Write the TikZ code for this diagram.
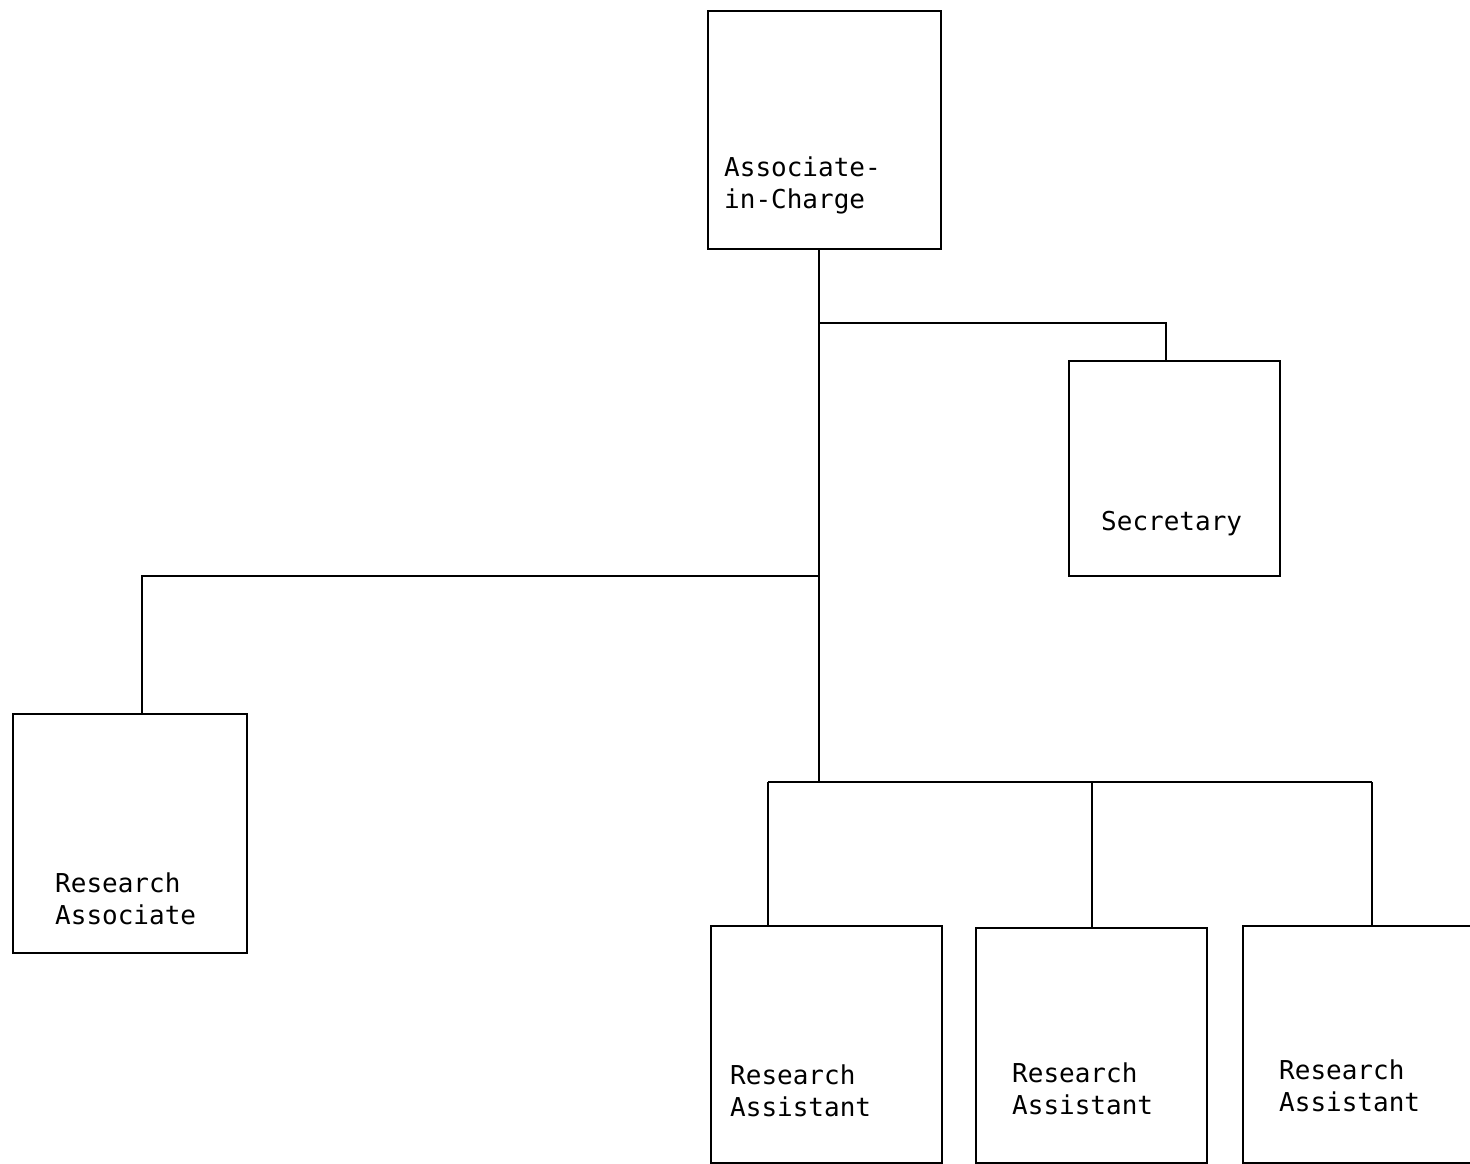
\documentclass[tikz,border=0pt]{standalone}
\usepackage{fontspec}
\setmonofont{DejaVu Sans Mono}
\begin{document}
\begin{tikzpicture}[x=1pt,y=-1pt,
  box/.style={draw=black, line width=1.8pt, anchor=north west, inner sep=0pt, minimum width=#1},
  lbl/.style={anchor=base west, inner sep=0pt, font=\ttfamily\fontsize{26}{32}\selectfont, align=left, text=black},
  wire/.style={draw=black, line width=1.8pt}]
\useasboundingbox[fill=white] (0,0) rectangle (1470,1164);
% boxes
\node[box=233pt, minimum height=238pt] (aic) at (707,10) {};
\node[box=211pt, minimum height=215pt] (sec) at (1068,360) {};
\node[box=234pt, minimum height=239pt] (rass) at (12,713) {};
\node[box=231pt, minimum height=237pt] (ra1) at (710,925) {};
\node[box=231pt, minimum height=235pt] (ra2) at (975,927) {};
\node[box=232pt, minimum height=237pt] (ra3) at (1242,925) {};
% labels (anchor = baseline of last line)
\node[lbl] (taic) at (724,208) {Associate-\\in-Charge};
\node[lbl] (tsec) at (1101,530) {Secretary};
\node[lbl] (trass) at (55,924) {Research\\Associate};
\node[lbl] (tra1) at (730,1116) {Research\\Assistant};
\node[lbl] (tra2) at (1012,1114) {Research\\Assistant};
\node[lbl] (tra3) at (1279,1111) {Research\\Assistant};
% junctions
\coordinate (j1) at (819,323);
\coordinate (j2) at (819,576);
\coordinate (j3) at (819,782);
\coordinate (s1) at (1166,323);
\coordinate (r1) at (142,576);
\coordinate (b1) at (768,782);
\coordinate (b2) at (1092,782);
\coordinate (b3) at (1372,782);
% connectors
\draw[wire] (j1 |- aic.south) -- (j3);
\draw[wire] (j1) -- (s1) -- (s1 |- sec.north);
\draw[wire] (j2) -- (r1) -- (r1 |- rass.north);
\draw[wire] (b1) -- (b3);
\draw[wire] (b1) -- (b1 |- ra1.north);
\draw[wire] (b2) -- (b2 |- ra2.north);
\draw[wire] (b3) -- (b3 |- ra3.north);
\end{tikzpicture}
\end{document}
